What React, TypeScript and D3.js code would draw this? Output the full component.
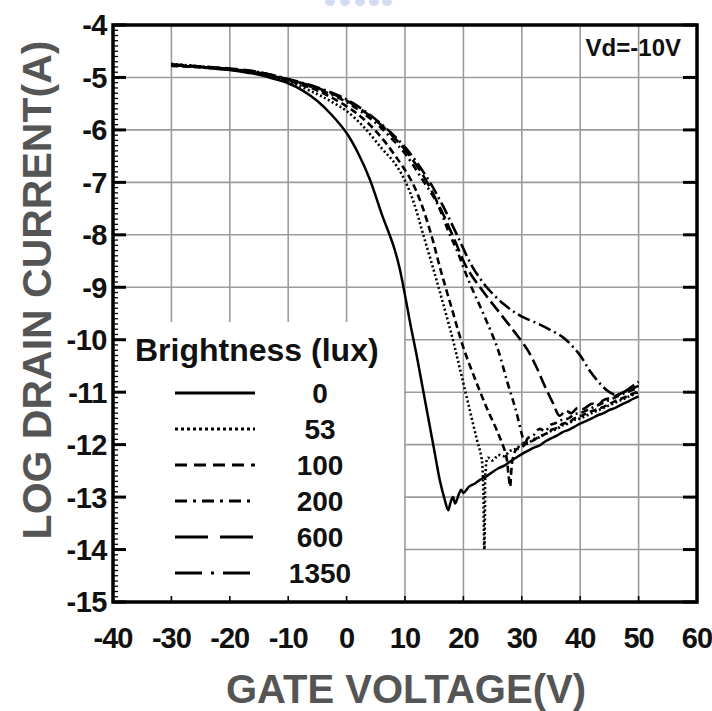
import React from "react";
import * as d3 from "d3";

// ---- data (gate voltage V, log drain current A) ----
const xTicks = [-40, -30, -20, -10, 0, 10, 20, 30, 40, 50, 60];
const yTicks = [-4, -5, -6, -7, -8, -9, -10, -11, -12, -13, -14, -15];

const lux0: [number, number][] = [
  [-30, -4.76], [-28, -4.78], [-25, -4.8], [-22, -4.84], [-20, -4.86], [-17, -4.91], [-15, -4.95],
  [-12, -5.04], [-10, -5.11], [-7.5, -5.25], [-5, -5.45], [-2.5, -5.72], [0, -6.06], [2, -6.45],
  [4, -6.95], [6, -7.6], [8, -8.2], [9, -8.6], [10, -9.15], [11, -9.75], [12, -10.3], [13, -10.9],
  [14, -11.5], [15, -12.1], [16, -12.7], [16.8, -13.05], [17.4, -13.25], [17.8, -13.1], [18.2, -13.0],
  [18.6, -13.12], [19.2, -12.95], [19.6, -12.86], [20, -12.92], [21, -12.8], [22, -12.74], [23, -12.66],
  [24, -12.6], [25, -12.52], [26, -12.45], [27, -12.4], [28, -12.32], [29, -12.25], [30, -12.18],
  [31, -12.12], [32, -12.06], [33, -12.02], [34, -11.94], [35, -11.88], [36, -11.83], [37, -11.76],
  [38, -11.72], [39, -11.66], [40, -11.6], [41, -11.55], [42, -11.5], [43, -11.44], [44, -11.4],
  [45, -11.34], [46, -11.3], [47, -11.24], [48, -11.19], [49, -11.13], [50, -11.08],
];
const lux53: [number, number][] = [
  [-30, -4.74], [-25, -4.79], [-20, -4.84], [-15, -4.93], [-10, -5.08], [-5, -5.32], [-2, -5.5],
  [0, -5.64], [3, -5.95], [6, -6.35], [8, -6.6], [9.7, -6.9], [11.4, -7.35], [13, -7.95], [14.8, -8.63],
  [16.5, -9.3], [18.2, -10.0], [19.5, -10.6], [21, -11.3], [22.3, -11.9], [23.1, -12.25], [23.4, -12.8],
  [23.5, -13.6], [23.6, -14.0], [23.7, -13.2], [23.8, -12.5], [24.2, -12.25], [25, -12.3], [26, -12.2],
  [27, -12.22], [28, -12.12], [29, -12.08], [30, -12.0], [31, -11.98], [32, -11.9], [33, -11.86],
  [34, -11.8], [35, -11.74], [36, -11.7], [37, -11.63], [38, -11.6], [39, -11.53], [40, -11.5],
  [42, -11.4], [44, -11.3], [46, -11.2], [48, -11.1], [50, -11.0],
];
const lux100: [number, number][] = [
  [-30, -4.78], [-25, -4.81], [-20, -4.85], [-15, -4.92], [-10, -5.06], [-5, -5.25], [0, -5.55],
  [3, -5.8], [6, -6.15], [9, -6.6], [11, -6.95], [12.6, -7.35], [14.5, -8.0], [16, -8.63], [18, -9.4],
  [20, -10.15], [22, -10.75], [24, -11.3], [26, -11.8], [27.3, -12.2], [27.7, -12.55], [28, -12.8],
  [28.2, -12.5], [28.4, -12.3], [29, -12.1], [30, -12.05], [31, -11.95], [32, -11.92], [33, -11.84],
  [34, -11.8], [35, -11.72], [36, -11.68], [37, -11.6], [38, -11.58], [39, -11.5], [40, -11.46],
  [42, -11.36], [44, -11.28], [46, -11.17], [48, -11.08], [50, -10.98],
];
const lux200: [number, number][] = [
  [-30, -4.77], [-25, -4.8], [-20, -4.84], [-15, -4.91], [-10, -5.05], [-5, -5.22], [0, -5.47],
  [5, -5.87], [8, -6.2], [10, -6.45], [13, -6.95], [15.5, -7.4], [17.5, -7.95], [18.9, -8.3],
  [21, -8.9], [23.4, -9.5], [25.8, -10.15], [27.5, -10.8], [29, -11.35], [30, -11.8], [30.5, -12.0],
  [31, -11.88], [32, -11.82], [33, -11.7], [34, -11.74], [35, -11.62], [36, -11.58], [37, -11.52],
  [38, -11.5], [39, -11.42], [40, -11.4], [42, -11.3], [44, -11.2], [46, -11.1], [48, -11.0], [50, -10.92],
];
const lux600: [number, number][] = [
  [-30, -4.75], [-25, -4.79], [-20, -4.83], [-15, -4.9], [-10, -5.04], [-5, -5.2], [0, -5.44],
  [5, -5.82], [8, -6.13], [10, -6.38], [13, -6.85], [16.5, -7.6], [18.5, -8.1], [20.6, -8.63],
  [23.5, -9.1], [26.3, -9.5], [28.6, -9.83], [30.9, -10.18], [32.5, -10.52], [34, -10.9], [35.3, -11.2],
  [36.5, -11.45], [37.5, -11.35], [38.5, -11.4], [39.5, -11.3], [40.5, -11.32], [42, -11.22],
  [43, -11.25], [44, -11.15], [45.5, -11.1], [47, -11.02], [48.5, -10.95], [50, -10.88],
];
const lux1350: [number, number][] = [
  [-30, -4.76], [-25, -4.8], [-20, -4.84], [-15, -4.9], [-10, -5.03], [-5, -5.19], [0, -5.42],
  [5, -5.8], [10, -6.33], [14, -6.95], [16.5, -7.45], [18.9, -8.0], [21.5, -8.6], [24, -9.0],
  [27, -9.33], [29.7, -9.54], [32.5, -9.68], [35, -9.82], [37, -9.95], [38.3, -10.08], [40, -10.3],
  [41.7, -10.6], [43.5, -10.85], [45, -11.0], [46.3, -11.05], [47.5, -11.0], [48.5, -10.92], [50, -10.8],
];

const legendLabels = ["0", "53", "100", "200", "600", "1350"];
const seriesData = [lux0, lux53, lux100, lux200, lux600, lux1350];
const plotDash = ["none", "2,2.5", "7,4", "7,4,2,4", "13,5", "13,4,2,4"];
const legendDash = ["none", "3,3", "12,7", "12,6,3,6", "33,12", "27,9,3,9"];

const W = 712;
const H = 711;
const L = 113, R = 697, T = 25, B = 602;
const FONT = "'Liberation Sans', Arial, Helvetica, sans-serif";

export default function App() {
  const x = d3.scaleLinear().domain([-40, 60]).range([L, R]);
  const y = d3.scaleLinear().domain([-15, -4]).range([B, T]);
  const line = d3
    .line<[number, number]>()
    .x((d) => x(d[0]))
    .y((d) => y(d[1]))
    .curve(d3.curveCatmullRom.alpha(0.5));

  const minorTicks = d3.range(-15, -4 + 0.001, 0.1).map((v) => Math.round(v * 10) / 10);
  const legX0 = 175, legX1 = 255;
  const legY = d3.scaleLinear().domain([0, 5]).range([393, 573]);

  return (
    <svg
      width={W}
      height={H}
      style={{ position: "absolute", left: 0, top: 0, background: "#fff" }}
      fontFamily={FONT}
    >
      <rect x={0} y={0} width={W} height={H} fill="#fff" />
      {/* faint clipped watermark at top */}
      {[330, 345, 360, 374, 387].map((cx, i) => (
        <ellipse key={i} cx={cx} cy={2} rx={5} ry={4} fill="#c9d3f0" opacity={0.8} />
      ))}

      {/* grid */}
      {xTicks.slice(1, -1).map((v) => (
        <line key={"gx" + v} x1={x(v)} x2={x(v)} y1={T} y2={B} stroke="#9c9c9c" strokeWidth={1.6} />
      ))}
      {yTicks.slice(1, -1).map((v) => (
        <line key={"gy" + v} x1={L} x2={R} y1={y(v)} y2={y(v)} stroke="#9c9c9c" strokeWidth={1.6} />
      ))}

      {/* legend background */}
      <rect x={L} y={322} width={x(10) - L - 1} height={B - 322} fill="#fff" />

      {/* curves */}
      {seriesData.map((s, i) => (
        <path
          key={"s" + i}
          d={line(s) || ""}
          fill="none"
          stroke="#000"
          strokeWidth={i === 0 ? 2.5 : 2.6}
          strokeDasharray={plotDash[i]}
          strokeLinejoin="round"
        />
      ))}

      {/* axes frame */}
      <rect x={L} y={T} width={R - L} height={B - T} fill="none" stroke="#000" strokeWidth={3.5} />
      {minorTicks.map((v) => (
        <line key={"mt" + v} x1={L} x2={L + 5} y1={y(v)} y2={y(v)} stroke="#000" strokeWidth={1.3} />
      ))}
      {yTicks.map((v) => (
        <g key={"yt" + v}>
          <line x1={L} x2={L + 13} y1={y(v)} y2={y(v)} stroke="#000" strokeWidth={3} />
          <line x1={R - 14} x2={R} y1={y(v)} y2={y(v)} stroke="#000" strokeWidth={3} />
        </g>
      ))}
      {xTicks.map((v) => (
        <line key={"xt" + v} x1={x(v)} x2={x(v)} y1={B} y2={B - 6} stroke="#000" strokeWidth={1.6} />
      ))}

      {/* tick labels */}
      {yTicks.map((v) => (
        <text
          key={"yl" + v}
          x={107}
          y={y(v)}
          dy="0.36em"
          textAnchor="end"
          fontSize={29}
          fontWeight="bold"
          fill="#111"
          letterSpacing={-0.5}
        >
          {v}
        </text>
      ))}
      {xTicks.map((v) => (
        <text
          key={"xl" + v}
          x={x(v)}
          y={648}
          textAnchor="middle"
          fontSize={29}
          fontWeight="bold"
          fill="#111"
          letterSpacing={-1}
        >
          {v}
        </text>
      ))}

      {/* axis titles */}
      <text
        x={406}
        y={703}
        textAnchor="middle"
        fontSize={40}
        fontWeight="bold"
        fill="#555"
      >
        GATE VOLTAGE(V)
      </text>
      <text
        transform={`translate(51, 290) rotate(-90)`}
        textAnchor="middle"
        fontSize={41}
        fontWeight="bold"
        fill="#555"
      >
        LOG DRAIN CURRENT(A)
      </text>

      {/* annotation */}
      <text x={681} y={56} textAnchor="end" fontSize={24} fontWeight="bold" fill="#111">
        Vd=-10V
      </text>

      {/* legend */}
      <text x={135} y={361} fontSize={32} fontWeight="bold" fill="#111">
        Brightness (lux)
      </text>
      {legendLabels.map((lab, i) => (
        <g key={"lg" + i}>
          <line
            x1={legX0}
            x2={legX1}
            y1={legY(i)}
            y2={legY(i)}
            stroke="#000"
            strokeWidth={3.2}
            strokeDasharray={legendDash[i]}
          />
          <text
            x={320}
            y={legY(i) + 10}
            textAnchor="middle"
            fontSize={28}
            fontWeight="bold"
            fill="#111"
          >
            {lab}
          </text>
        </g>
      ))}
    </svg>
  );
}
